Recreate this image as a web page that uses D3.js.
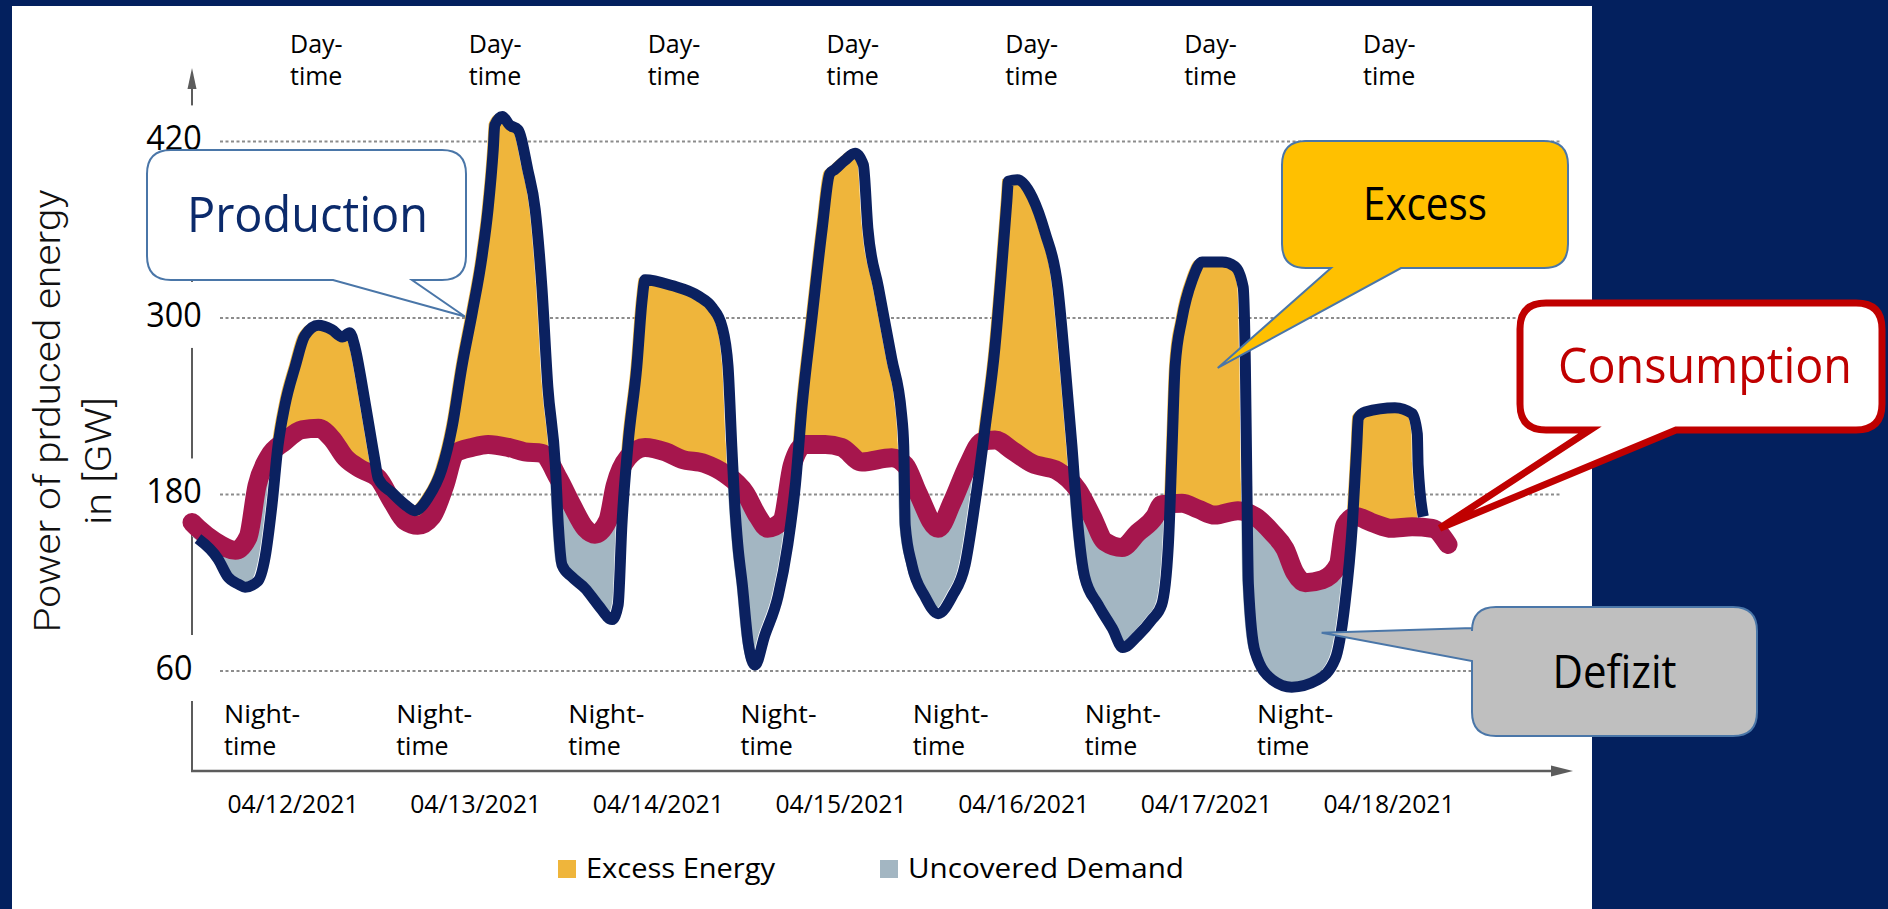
<!DOCTYPE html>
<html>
<head>
<meta charset="utf-8">
<script src="https://cdn.jsdelivr.net/npm/d3@7"></script>
<style>
  html, body { margin: 0; padding: 0; background: #03205e; }
  svg { display: block; }
</style>
</head>
<body>
<svg id="chart" width="1888" height="909"></svg>
<script>
// ---- Data: hours since start of the week window, power in GW ----
const productionHours = [0.8, 3.5, 4.8, 6.2, 7.1, 8.8, 9.8, 10.7, 11.5, 12.4, 13.8, 15.1, 16.9, 18.7, 20.1, 21.1, 21.8, 22.7, 23.5, 24.5, 24.9, 26.8, 28.5, 29.8, 31.6, 33.4, 34.8, 36.1, 37.5, 38.8, 39.6, 40.3, 40.5, 41.5, 42.5, 43.6, 44.9, 45.9, 46.8, 47.6, 48.6, 49.0, 49.5, 50.8, 52.6, 54.3, 56.2, 57.0, 57.5, 58.3, 59.5, 60.2, 60.6, 64.2, 67.7, 69.6, 70.9, 71.7, 72.2, 72.6, 73.0, 73.6, 74.4, 75.3, 76.6, 78.4, 79.7, 80.7, 81.6, 82.9, 84.3, 85.3, 86.0, 87.3, 88.7, 89.8, 90.4, 91.8, 93.6, 94.9, 95.2, 95.4, 96.3, 98.0, 99.8, 101.7, 103.4, 104.7, 106.1, 107.4, 108.3, 109.0, 109.2, 110.4, 112.4, 114.1, 115.8, 116.8, 117.7, 118.5, 119.4, 121.2, 123.1, 124.5, 126.5, 128.4, 129.7, 130.6, 131.1, 131.5, 132.4, 133.8, 135.1, 137.8, 139.5, 140.6, 140.9, 141.1, 141.3, 142.2, 144.5, 147.1, 150.6, 152.9, 154.2, 155.2, 155.8, 156.0, 156.9, 160.9, 163.2, 163.9, 164.0, 164.7];
const productionGW = [150, 136, 124, 119, 117, 121, 138, 173, 213, 240, 267, 288, 295, 292, 287, 290, 280, 256, 232, 202, 191, 181, 173, 169, 178, 197, 226, 267, 304, 342, 374, 415, 431, 437, 431, 428, 401, 374, 321, 253, 200, 159, 132, 124, 116, 105, 95, 105, 159, 213, 267, 312, 326, 322, 315, 307, 294, 267, 213, 173, 146, 119, 79, 64, 84, 111, 146, 186, 240, 299, 361, 398, 401, 407, 412, 404, 361, 321, 272, 235, 213, 159, 132, 111, 99, 111, 132, 173, 226, 280, 334, 380, 393, 394, 382, 358, 321, 267, 213, 159, 124, 105, 89, 76, 84, 95, 105, 146, 213, 267, 299, 326, 338, 338, 335, 321, 267, 186, 119, 73, 54, 49, 54, 68, 105, 159, 213, 232, 236, 239, 235, 221, 200, 165];

const consumptionHours = [0, 0.8, 3.1, 5.8, 7.5, 8.7, 10.2, 12.4, 14.7, 16.9, 18.7, 20.5, 22.7, 24.9, 26.8, 28.5, 30.2, 32.1, 33.8, 35.2, 37.5, 39.6, 42.3, 44.5, 46.8, 49.0, 50.8, 52.6, 53.9, 55.6, 56.6, 58.3, 60.6, 63.3, 65.5, 68.6, 71.3, 74.0, 75.7, 77.0, 78.9, 80.3, 82.0, 84.7, 86.9, 89.6, 93.6, 95.4, 97.1, 99.8, 101.7, 103.8, 105.7, 107.4, 109.7, 112.4, 115.8, 118.5, 120.4, 122.1, 124.4, 126.5, 128.8, 129.7, 132.4, 134.6, 136.8, 139.9, 142.2, 144.5, 146.2, 147.5, 148.9, 151.2, 153.3, 154.2, 155.6, 157.8, 160.5, 163.2, 165.9, 168.0];
const consumptionGW = [161, 157, 148, 142, 151, 186, 205, 216, 224, 225, 218, 205, 197, 191, 175, 162, 159, 165, 186, 208, 212, 214, 212, 209, 208, 191, 173, 157, 153, 162, 186, 205, 212, 209, 204, 201, 194, 181, 165, 157, 162, 200, 214, 214, 212, 202, 205, 200, 181, 157, 175, 200, 216, 217, 210, 201, 196, 183, 165, 148, 144, 154, 165, 173, 174, 170, 166, 169, 165, 154, 143, 127, 120, 122, 132, 159, 165, 161, 157, 158, 157, 146];

const yTicks = [60, 180, 300, 420];
const dateLabels = ["04/12/2021", "04/13/2021", "04/14/2021", "04/15/2021", "04/16/2021", "04/17/2021", "04/18/2021"];
const dayLabel = ["Day-", "time"];
const nightLabel = ["Night-", "time"];
const legendLabels = ["Excess Energy", "Uncovered Demand"];

// Callout anchors: [hour, GW] the pointer tip refers to
const calloutProduction = { text: "Production", at: [36.5, 301] };
const calloutExcess = { text: "Excess", at: [137.2, 266] };
const calloutConsumption = { text: "Consumption", at: [166.9, 157] };
const calloutDeficit = { text: "Defizit", at: [151.1, 86] };

// ---- Styling ----
const NAVY_BG = "#03205e";
const PROD_COLOR = "#0b2160";
const CONS_COLOR = "#a6164d";
const EXCESS_COLOR = "#efb53b";
const DEFICIT_COLOR = "#a3b6c2";
const AXIS_COLOR = "#5c5c5c";
const FONT = "'Open Sans', 'Noto Sans', sans-serif";

const production = productionHours.map((h, i) => ({ h, v: productionGW[i] }));
const consumption = consumptionHours.map((h, i) => ({ h, v: consumptionGW[i] }));

const svg = d3.select("#chart");
svg.append("rect").attr("width", 1888).attr("height", 909).attr("fill", NAVY_BG);
svg.append("rect").attr("x", 12).attr("y", 6).attr("width", 1580).attr("height", 903).attr("fill", "#fff");

const x = d3.scaleLinear().domain([0, 168]).range([192, 1448]);
const y = d3.scaleLinear().domain([60, 420]).range([671, 141.4]);
const axisX0 = 192, axisBase = 771;

// gridlines
svg.append("g").selectAll("line").data(yTicks).join("line")
  .attr("x1", 220).attr("x2", 1560)
  .attr("y1", d => y(d)).attr("y2", d => y(d))
  .attr("stroke", "#8c8c8c").attr("stroke-width", 2)
  .attr("stroke-dasharray", "3 2.5");

// axes with arrow heads
const axes = svg.append("g").attr("fill", AXIS_COLOR).attr("stroke", AXIS_COLOR);
axes.append("line").attr("x1", axisX0).attr("x2", axisX0).attr("y1", axisBase).attr("y2", 86).attr("stroke-width", 2);
axes.append("path").attr("stroke", "none").attr("d", `M${axisX0},68 L${axisX0 - 4.5},89 L${axisX0 + 4.5},89 Z`);
axes.append("line").attr("x1", axisX0 - 1).attr("x2", 1553).attr("y1", axisBase).attr("y2", axisBase).attr("stroke-width", 2.5);
axes.append("path").attr("stroke", "none").attr("d", `M1573,${axisBase} L1551,${axisBase - 5.5} L1551,${axisBase + 5.5} Z`);

// y tick labels on white plates
const tickG = svg.append("g");
tickG.selectAll("rect").data(yTicks).join("rect")
  .attr("x", 138).attr("y", d => y(d) - 36).attr("width", 80).attr("height", 66)
  .attr("fill", "#fff");
tickG.selectAll("text").data(yTicks).join("text")
  .attr("x", 174).attr("y", d => y(d) + 9)
  .attr("text-anchor", "middle")
  .attr("font-family", FONT).attr("font-size", 34).attr("fill", "#000")
  .attr("textLength", d => String(d).length * 18.5).attr("lengthAdjust", "spacingAndGlyphs")
  .text(d => d);

// ---- Areas between the curves ----
const curve = d3.curveMonotoneX;
const defs = svg.append("defs");
defs.append("clipPath").attr("id", "above-consumption").append("path")
  .attr("d", d3.area().x(d => x(d.h)).y0(0).y1(d => y(d.v)).curve(curve)(consumption));
defs.append("clipPath").attr("id", "above-production").append("path")
  .attr("d", d3.area().x(d => x(d.h)).y0(0).y1(d => y(d.v)).curve(curve)(production));

const fills = svg.append("g").attr("transform", "translate(-6,-2)");
fills.append("path")
  .attr("d", d3.area().x(d => x(d.h)).y0(axisBase).y1(d => y(d.v)).curve(curve)(production))
  .attr("fill", EXCESS_COLOR)
  .attr("clip-path", "url(#above-consumption)");
fills.append("path")
  .attr("d", d3.area().x(d => x(d.h)).y0(axisBase).y1(d => y(d.v)).curve(curve)(consumption))
  .attr("fill", DEFICIT_COLOR)
  .attr("clip-path", "url(#above-production)");

// ---- Lines ----
const line = d3.line().x(d => x(d.h)).y(d => y(d.v)).curve(curve);
svg.append("path").attr("d", line(consumption))
  .attr("fill", "none").attr("stroke", CONS_COLOR).attr("stroke-width", 19)
  .attr("stroke-linecap", "round").attr("stroke-linejoin", "round");
svg.append("path").attr("d", line(production))
  .attr("fill", "none").attr("stroke", PROD_COLOR).attr("stroke-width", 11)
  .attr("stroke-linecap", "butt").attr("stroke-linejoin", "round");

// ---- Day / night labels and dates ----
const dayX = d3.scalePoint().domain(dateLabels).range([290, 1363]);
const nightX = d3.scalePoint().domain(dateLabels).range([224, 1257]);
const dateX = d3.scalePoint().domain(dateLabels).range([293, 1389]);

const labelG = svg.append("g").attr("font-family", FONT).attr("font-size", 25).attr("fill", "#000");
dateLabels.forEach(d => {
  labelG.append("text").attr("x", dayX(d)).attr("y", 53).text(dayLabel[0]);
  labelG.append("text").attr("x", dayX(d)).attr("y", 85).text(dayLabel[1]);
  labelG.append("text").attr("x", nightX(d)).attr("y", 723)
    .attr("textLength", 76).attr("lengthAdjust", "spacingAndGlyphs").text(nightLabel[0]);
  labelG.append("text").attr("x", nightX(d)).attr("y", 755).text(nightLabel[1]);
});
svg.append("g").selectAll("text").data(dateLabels).join("text")
  .attr("x", d => dateX(d)).attr("y", 813).attr("text-anchor", "middle")
  .attr("font-family", FONT).attr("font-size", 25).attr("fill", "#000")
  .attr("textLength", 131).attr("lengthAdjust", "spacingAndGlyphs")
  .text(d => d);

// ---- Legend ----
const legendColors = [EXCESS_COLOR, DEFICIT_COLOR];
const legendX = [558, 880];
const legendW = [189, 276];
const legend = svg.append("g");
legendLabels.forEach((label, i) => {
  legend.append("rect").attr("x", legendX[i]).attr("y", 860).attr("width", 18).attr("height", 18).attr("fill", legendColors[i]);
  legend.append("text").attr("x", legendX[i] + 28).attr("y", 878)
    .attr("font-family", FONT).attr("font-size", 28).attr("fill", "#000")
    .attr("textLength", legendW[i]).attr("lengthAdjust", "spacingAndGlyphs")
    .text(label);
});

// ---- Y axis title ----
const titleG = svg.append("g").attr("font-family", "Roboto, 'Open Sans', sans-serif")
  .attr("font-weight", 300).attr("font-size", 37).attr("fill", "#111").attr("text-anchor", "middle");
titleG.append("text").attr("transform", "translate(60,411) rotate(-90)")
  .attr("textLength", 443).attr("lengthAdjust", "spacingAndGlyphs")
  .text("Power of prduced energy");
titleG.append("text").attr("transform", "translate(111,461) rotate(-90)")
  .attr("textLength", 128).attr("lengthAdjust", "spacingAndGlyphs")
  .text("in [GW]");

// ---- Callouts ----
function calloutPath(x0, y0, x1, y1, r, side, a, b, tip) {
  let p = `M${x0 + r},${y0} L${x1 - r},${y0} Q${x1},${y0} ${x1},${y0 + r} L${x1},${y1 - r} Q${x1},${y1} ${x1 - r},${y1}`;
  if (side === "bottom") p += ` L${b},${y1} L${tip[0]},${tip[1]} L${a},${y1}`;
  p += ` L${x0 + r},${y1} Q${x0},${y1} ${x0},${y1 - r}`;
  if (side === "left") p += ` L${x0},${b} L${tip[0]},${tip[1]} L${x0},${a}`;
  p += ` L${x0},${y0 + r} Q${x0},${y0} ${x0 + r},${y0} Z`;
  return p;
}
function drawCallout(c, box, side, a, b, style) {
  const tip = [x(c.at[0]), y(c.at[1])];
  const g = svg.append("g");
  g.append("path")
    .attr("d", calloutPath(box[0], box[1], box[2], box[3], box[4], side, a, b, tip))
    .attr("fill", style.fill).attr("stroke", style.stroke).attr("stroke-width", style.sw)
    .attr("stroke-linejoin", "miter");
  g.append("text")
    .attr("x", (box[0] + box[2]) / 2 + (style.dx || 0)).attr("y", style.baseline)
    .attr("text-anchor", "middle").attr("font-family", FONT)
    .attr("font-size", style.size).attr("fill", style.color)
    .attr("textLength", style.len).attr("lengthAdjust", "spacingAndGlyphs")
    .text(c.text);
}
drawCallout(calloutProduction, [147, 150, 466, 280, 24], "bottom", 333, 412,
  { fill: "#fff", stroke: "#4a76a8", sw: 2, color: "#0b2a6b", size: 50, baseline: 232, len: 241, dx: 1 });
drawCallout(calloutExcess, [1282, 141, 1568, 268, 24], "bottom", 1331, 1401,
  { fill: "#ffc000", stroke: "#4a76a8", sw: 2, color: "#000", size: 46, baseline: 220, len: 124 });
drawCallout(calloutDeficit, [1472, 607, 1757, 736, 24], "left", 628, 661,
  { fill: "#bfbfbf", stroke: "#4a76a8", sw: 2, color: "#000", size: 46, baseline: 688, len: 124 });
drawCallout(calloutConsumption, [1520, 303, 1882, 430, 26], "bottom", 1590, 1676,
  { fill: "#fff", stroke: "#c00000", sw: 7, color: "#c00000", size: 50, baseline: 383, len: 294, dx: 4 });
</script>
</body>
</html>
